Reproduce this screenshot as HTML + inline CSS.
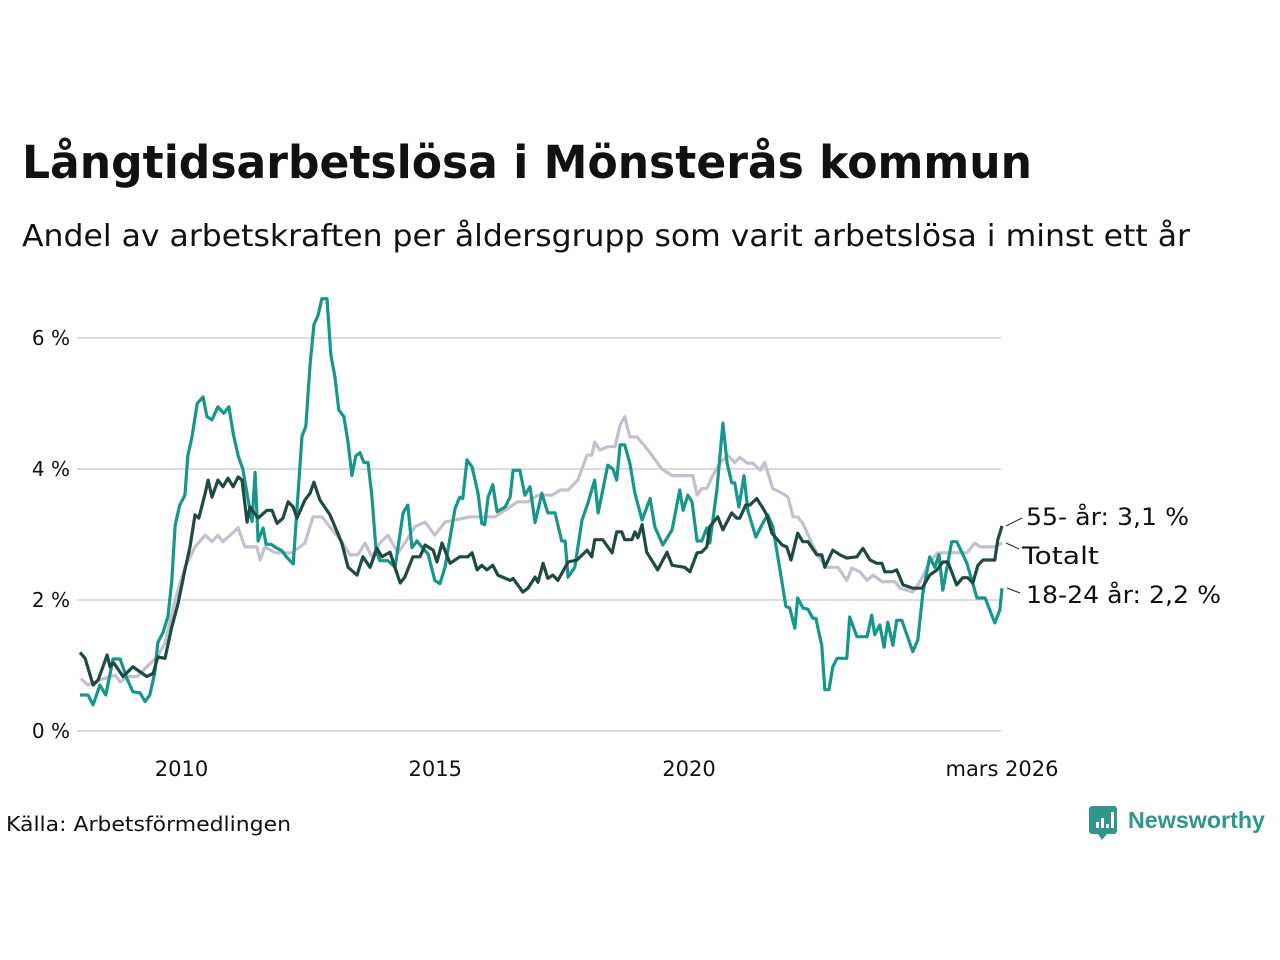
<!DOCTYPE html>
<html><head><meta charset="utf-8"><style>
html,body{margin:0;padding:0;background:#fff;}
svg{display:block;font-family:"DejaVu Sans","Liberation Sans",sans-serif;}
</style></head><body>
<svg id="chart" width="1280" height="960" viewBox="0 0 1280 960" xmlns="http://www.w3.org/2000/svg">
<text x="22" y="178" font-size="45" font-weight="bold" fill="#111" textLength="1010" lengthAdjust="spacingAndGlyphs">Långtidsarbetslösa i Mönsterås kommun</text>
<text x="22" y="246" font-size="30" fill="#111" textLength="1168" lengthAdjust="spacingAndGlyphs">Andel av arbetskraften per åldersgrupp som varit arbetslösa i minst ett år</text>
<g id="grid"></g>
<g id="yticks"></g>
<g id="xticks"></g>
<g id="series"></g>
<g>
<line x1="1006" y1="526" x2="1022" y2="518" stroke="#222" stroke-width="1"/>
<text x="1026" y="525" font-size="24" fill="#111" textLength="163" lengthAdjust="spacingAndGlyphs">55- år: 3,1 %</text>
<line x1="1006" y1="543" x2="1019" y2="549" stroke="#222" stroke-width="1"/>
<text x="1022" y="564" font-size="24" fill="#111" textLength="77" lengthAdjust="spacingAndGlyphs">Totalt</text>
<line x1="1007" y1="588" x2="1020" y2="593" stroke="#222" stroke-width="1"/>
<text x="1026" y="603" font-size="24" fill="#111" textLength="195" lengthAdjust="spacingAndGlyphs">18-24 år: 2,2 %</text>
</g>
<text x="6" y="831" font-size="20" fill="#111" textLength="285" lengthAdjust="spacingAndGlyphs">Källa: Arbetsförmedlingen</text>
<g>
<path d="M1092 806 h22 a3 3 0 0 1 3 3 v22 a3 3 0 0 1 -3 3 h-7 l-5 6 l-4 -6 h-6 a3 3 0 0 1 -3 -3 v-22 a3 3 0 0 1 3 -3z" fill="#2f968a"/>
<rect x="1096" y="822" width="3" height="6" fill="#fff"/><rect x="1101" y="818" width="3" height="10" fill="#fff"/><rect x="1106" y="824" width="3" height="4" fill="#fff"/><rect x="1111" y="812" width="3" height="16" fill="#fff"/>
<text x="1128" y="828" font-size="23" font-weight="bold" fill="#2f968a" textLength="137" lengthAdjust="spacingAndGlyphs" font-family="Liberation Sans, sans-serif">Newsworthy</text>
</g>
</svg>
<script>
const yTicks = [0, 2, 4, 6];
const yTickLabels = ["0 %", "2 %", "4 %", "6 %"];
const xTickMonths = [24, 84, 144, 218];
const xTickLabels = ["2010", "2015", "2020", "mars 2026"];

const months55 = [0,1.2,3.1,4.3,6.4,7.1,8.0,10.2,12.5,15.8,17.3,18.4,20.1,21.7,23.2,24.8,26.0,27.2,28.1,29.6,30.3,31.2,32.6,33.8,35.0,36.2,37.4,38.3,39.5,40.2,42.1,44.2,45.4,46.6,48.0,49.2,50.4,51.3,53.2,54.4,55.3,56.7,59.1,61.9,63.4,65.5,66.9,68.6,70.2,71.4,73.3,74.5,75.7,76.8,78.7,80.4,81.6,83.5,84.4,85.6,87.5,89.8,91.7,92.7,93.9,95.0,96.2,97.6,98.8,101.7,102.4,104.7,105.9,107.6,108.3,109.5,110.6,111.8,113.0,115.4,117.5,119.9,121.0,121.7,123.6,125.8,126.9,128.1,128.8,130.5,131.2,131.9,132.9,134.0,136.6,138.8,140.0,143.0,144.2,145.9,147.0,148.2,148.9,150.8,152.0,154.1,155.3,156.0,157.4,158.4,160.0,161.5,162.4,163.6,166.0,167.1,168.1,169.7,170.9,172.1,174.2,175.4,176.1,178.0,179.7,181.3,183.7,185.1,186.8,188.4,189.6,190.3,192.0,193.1,194.6,196.9,199.1,200.9,202.6,204.0,205.2,207.3,208.7,209.9,211.1,212.3,213.5,216.3,217.0,218];
const values55 = [1.2,1.11,0.7,0.78,1.16,0.98,1.04,0.83,0.98,0.83,0.88,1.13,1.11,1.59,1.95,2.46,2.81,3.3,3.25,3.63,3.83,3.57,3.83,3.73,3.86,3.73,3.88,3.83,3.19,3.42,3.25,3.37,3.37,3.17,3.25,3.5,3.42,3.25,3.53,3.63,3.8,3.53,3.3,2.87,2.5,2.38,2.66,2.5,2.79,2.66,2.73,2.49,2.26,2.35,2.66,2.66,2.84,2.76,2.58,2.87,2.56,2.66,2.66,2.72,2.46,2.53,2.46,2.53,2.38,2.3,2.33,2.12,2.18,2.35,2.27,2.56,2.33,2.38,2.3,2.58,2.61,2.76,2.66,2.92,2.92,2.72,3.04,3.04,2.92,2.92,3.04,2.95,3.15,2.73,2.46,2.73,2.53,2.5,2.43,2.72,2.73,2.81,3.12,3.27,3.07,3.33,3.25,3.25,3.45,3.45,3.55,3.4,3.3,3.02,2.84,2.81,2.61,3.02,2.89,2.89,2.69,2.69,2.5,2.76,2.69,2.64,2.66,2.79,2.61,2.56,2.56,2.43,2.43,2.46,2.23,2.18,2.18,2.38,2.46,2.58,2.58,2.23,2.34,2.34,2.26,2.53,2.61,2.61,2.92,3.13];

const monthsTot = [0.2,1.9,4.7,8.3,9.5,11.3,13.5,15.8,18.2,20.1,22.5,24.8,27.2,29.6,31.2,32.6,33.8,35.5,37.4,39.0,41.8,42.6,43.7,46.1,50.1,53.2,55.1,57.2,60.3,61.9,63.8,65.7,67.4,69.0,70.9,72.8,75.2,76.8,79.2,81.6,83.9,86.3,92.2,95.0,98.1,101.7,103.5,105.9,108.3,111.6,113.5,115.4,117.7,119.9,121.0,121.7,122.9,124.8,126.5,127.7,128.8,130.0,131.7,134.3,137.6,140.0,142.6,144.9,145.9,147.0,148.2,149.6,151.3,153.2,154.8,156.0,157.7,159.1,160.8,161.9,163.8,166.0,167.4,168.6,169.7,170.9,173.0,174.9,176.6,179.2,181.3,182.5,184.4,186.1,187.5,189.6,192.7,193.9,196.9,198.6,200.9,202.8,209.7,211.6,212.8,216.3,218];
const valuesTot = [0.8,0.7,0.78,0.85,0.75,0.83,0.83,0.98,1.13,1.34,2.0,2.5,2.81,2.99,2.89,2.99,2.89,2.99,3.1,2.81,2.81,2.61,2.81,2.72,2.72,2.87,3.27,3.27,3.02,2.89,2.69,2.69,2.87,2.66,2.87,2.99,2.72,2.87,3.12,3.19,2.99,3.19,3.27,3.27,3.27,3.42,3.5,3.5,3.6,3.6,3.68,3.68,3.83,4.21,4.21,4.41,4.29,4.34,4.34,4.67,4.8,4.49,4.49,4.29,4.0,3.9,3.9,3.9,3.6,3.7,3.7,3.9,4.09,4.21,4.1,4.18,4.09,4.09,3.98,4.1,3.7,3.63,3.57,3.27,3.27,3.17,2.87,2.64,2.5,2.5,2.3,2.49,2.43,2.3,2.38,2.28,2.28,2.18,2.12,2.28,2.58,2.72,2.72,2.87,2.81,2.81,2.87];

const months18 = [0,1.9,3.1,4.7,6.1,7.8,9.5,11.1,12.5,14.2,15.4,16.5,17.7,18.4,19.6,20.8,21.7,22.5,23.6,24.8,25.5,26.5,27.7,29.1,30.0,31.2,32.6,34.0,35.2,36.2,37.4,38.5,39.7,40.7,41.4,42.1,43.3,44.0,45.2,46.3,47.8,48.9,50.4,52.5,53.4,54.4,55.3,56.3,57.2,58.4,59.3,60.3,61.2,62.4,63.4,64.3,65.2,66.2,67.1,68.1,69.0,70.0,70.9,72.8,74.5,76.4,77.5,78.5,79.7,80.9,82.3,83.9,85.1,86.3,88.7,89.8,90.5,91.5,92.7,94.1,95.0,95.7,96.5,97.6,98.6,100.5,101.7,102.4,104.0,105.2,106.4,107.6,109.2,110.6,112.3,113.9,114.7,115.4,117.0,118.7,120.1,121.7,122.5,124.8,126.0,126.9,127.7,128.8,130.0,131.2,132.9,134.8,135.9,137.8,140.0,141.8,142.6,143.7,144.7,145.9,147.0,148.2,148.9,150.6,152.0,153.0,154.1,154.8,155.8,157.0,157.9,159.8,161.5,162.6,163.8,165.5,166.9,167.8,169.0,169.7,170.9,172.1,173.3,174.0,175.4,176.1,177.1,178.0,179.0,181.3,182.0,183.7,186.1,187.2,187.9,189.1,190.1,191.0,192.2,193.1,194.3,196.9,198.1,199.3,200.9,202.1,203.1,204.0,206.1,207.3,208.5,209.7,212.1,214.0,216.3,217.5,218];
const values18 = [0.55,0.55,0.4,0.7,0.55,1.1,1.1,0.8,0.6,0.58,0.45,0.55,0.9,1.35,1.5,1.75,2.3,3.15,3.45,3.6,4.2,4.5,5.0,5.1,4.8,4.75,4.95,4.85,4.95,4.55,4.2,4.0,3.55,3.2,3.95,2.9,3.1,2.85,2.85,2.8,2.75,2.65,2.55,4.5,4.65,5.6,6.2,6.35,6.6,6.6,5.75,5.4,4.9,4.8,4.4,3.9,4.2,4.25,4.1,4.1,3.6,2.75,2.6,2.6,2.5,3.33,3.45,2.8,2.9,2.8,2.7,2.3,2.25,2.5,3.4,3.57,3.55,4.14,4.03,3.63,3.17,3.15,3.57,3.76,3.35,3.42,3.57,3.98,3.98,3.6,3.73,3.18,3.63,3.33,3.33,2.9,2.9,2.35,2.5,3.22,3.48,3.83,3.33,4.06,4.0,3.83,4.37,4.37,4.09,3.63,3.22,3.55,3.12,2.84,3.07,3.68,3.37,3.6,3.5,2.9,2.9,3.1,2.87,3.68,4.7,4.09,3.79,3.79,3.42,3.9,3.37,2.96,3.18,3.3,3.12,2.46,1.9,1.88,1.57,2.03,1.88,1.86,1.72,1.72,1.3,0.63,0.63,0.98,1.11,1.11,1.74,1.44,1.44,1.77,1.47,1.62,1.28,1.66,1.31,1.69,1.69,1.21,1.39,2.11,2.66,2.5,2.69,2.15,2.89,2.89,2.73,2.56,2.03,2.03,1.65,1.85,2.18];

const NS = "http://www.w3.org/2000/svg";
const X0 = 80, X1 = 1002, MMAX = 218;
const Y0 = 731, PX_PER = 65.5;
function xScale(m){ return X0 + m * (X1 - X0) / MMAX; }
function yScale(v){ return Y0 - v * PX_PER; }

const grid = document.getElementById('grid');
const yt = document.getElementById('yticks');
yTicks.forEach((v, i) => {
  const l = document.createElementNS(NS, 'line');
  
  
  l.setAttribute('x1', 77); l.setAttribute('x2', 1001);
  l.setAttribute('y1', yScale(v)); l.setAttribute('y2', yScale(v));
  l.setAttribute('stroke', '#dcdce0'); l.setAttribute('stroke-width', 2);
  grid.appendChild(l);
  const t = document.createElementNS(NS, 'text');
  
  
  t.setAttribute('x', 70); t.setAttribute('y', yScale(v) + 7);
  t.setAttribute('text-anchor', 'end'); t.setAttribute('font-size', 20); t.setAttribute('fill', '#111');
  t.textContent = yTickLabels[i];
  yt.appendChild(t);
});
const xt = document.getElementById('xticks');
xTickMonths.forEach((m, i) => {
  const t = document.createElementNS(NS, 'text');
  
  
  t.setAttribute('x', xScale(m)); t.setAttribute('y', 776);
  t.setAttribute('text-anchor', 'middle'); t.setAttribute('font-size', 21); t.setAttribute('fill', '#111');
  t.textContent = xTickLabels[i];
  xt.appendChild(t);
});
const seriesG = document.getElementById('series');
function drawLine(ms, vs, color, name){
  const p = document.createElementNS(NS, 'path');
  
  
  let d = '';
  ms.forEach((m, i) => { d += (i ? 'L' : 'M') + xScale(m).toFixed(1) + ' ' + yScale(vs[i]).toFixed(1); });
  p.setAttribute('d', d);
  p.setAttribute('fill', 'none'); p.setAttribute('stroke', color);
  p.setAttribute('stroke-width', 3.2); p.setAttribute('stroke-linejoin', 'round');
  seriesG.appendChild(p);
}
drawLine(monthsTot, valuesTot, '#c3c0cf', 'line-totalt');
drawLine(months18, values18, '#17968a', 'line-18-24');
drawLine(months55, values55, '#1f4a43', 'line-55');
</script>
</body></html>
